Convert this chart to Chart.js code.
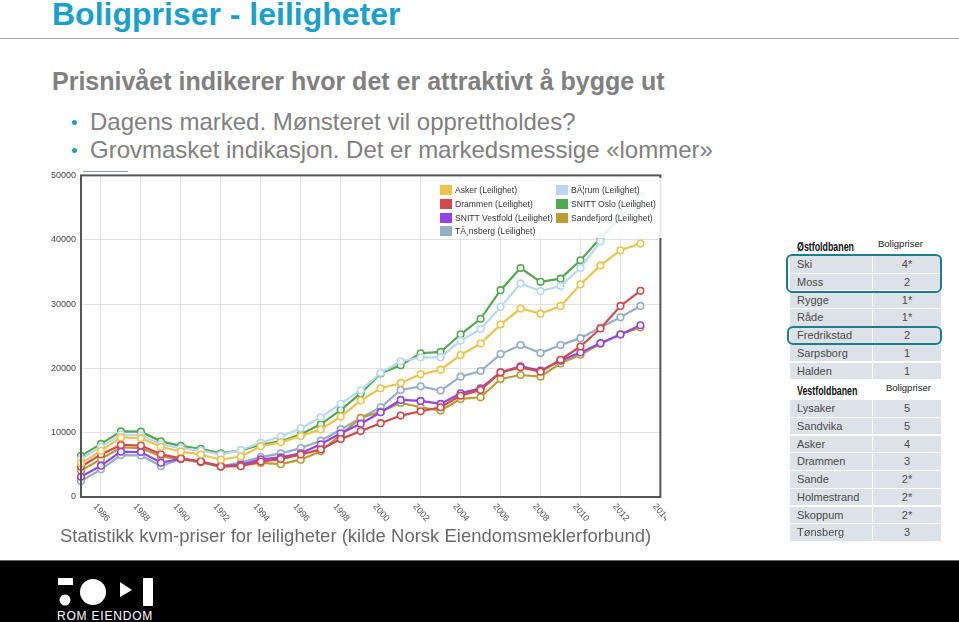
<!DOCTYPE html>
<html>
<head>
<meta charset="utf-8">
<script src="https://cdn.jsdelivr.net/npm/chart.js@4.4.1/dist/chart.umd.min.js"></script>
<style>
  body { margin: 0; width: 959px; height: 622px; background: #fff; position: relative; overflow: hidden; font-family: "Liberation Sans", Arial, sans-serif; }
  .abs { position: absolute; white-space: nowrap; }
  #title { left: 52px; top: -2px; font-size: 32px; line-height: 32px; font-weight: bold; color: #1ba1c9; }
  #rule { left: 0; top: 38px; width: 959px; height: 1px; background: #a8a8a8; }
  #sub { left: 52px; top: 69px; font-size: 25px; line-height: 25px; font-weight: bold; color: #808080; }
  .bul { left: 90px; font-size: 24px; line-height: 24px; color: #808080; }
  .dot { width: 5px; height: 5px; border-radius: 50%; background: #1ba1c9; }
  #caption { left: 60px; top: 527px; font-size: 18.5px; line-height: 18.5px; color: #6a6a6a; }
  #chartbox { left: 40px; top: 165px; width: 626px; height: 365px; overflow: hidden; }
  #legend { left: 436px; top: 178px; width: 226px; height: 60px; background: rgba(255,255,255,0.86); font-size: 8.6px; color: #333; }
  .lg { position: absolute; height: 12px; line-height: 12px; }
  .lg span { display: inline-block; width: 12px; height: 10px; vertical-align: -2px; margin-right: 3px; }
  .thead { font-weight: bold; font-size: 13px; line-height: 13px; color: #111; transform: scaleX(0.68); transform-origin: 0 0; }
  .tsub { font-size: 9.5px; line-height: 10px; color: #222; }
  .row { position: absolute; left: 790px; width: 151px; height: 16.7px; }
  .row div { position: absolute; top: 0; height: 16.7px; line-height: 17px; background: #dde2e8; font-size: 11px; color: #4a4a4a; }
  .row .c1 { left: 0; width: 82px; padding-left: 7px; box-sizing: border-box; }
  .row .c2 { left: 83px; width: 68px; text-align: center; }
  .hl { position: absolute; border: 2.5px solid #1b7d8e; border-radius: 6px; box-sizing: border-box; }
  #footer { left: 0; top: 560px; width: 959px; height: 62px; background: #000; border-top: 1px solid #666; box-sizing: border-box; }
</style>
</head>
<body>
<div class="abs" id="title">Boligpriser - leiligheter</div>
<div class="abs" id="rule"></div>
<div class="abs" id="sub">Prisnivået indikerer hvor det er attraktivt å bygge ut</div>
<div class="abs dot" style="left:72px;top:120px"></div>
<div class="abs bul" style="top:110px">Dagens marked. Mønsteret vil opprettholdes?</div>
<div class="abs dot" style="left:72px;top:148px"></div>
<div class="abs bul" style="top:138px">Grovmasket indikasjon. Det er markedsmessige «lommer»</div>

<div class="abs" style="left:83px;top:171px;width:45px;height:1px;background:#8fa0b4"></div>
<div class="abs" id="chartbox"><canvas id="chart" width="626" height="365"></canvas></div>
<div class="abs" id="legend"></div>
<div class="abs" id="caption">Statistikk kvm-priser for leiligheter (kilde Norsk Eiendomsmeklerforbund)</div>

<div id="tables"></div>

<div class="abs" id="footer">
  <svg width="200" height="62" style="position:absolute;left:0;top:0">
    <rect x="58" y="17" width="15" height="7" fill="#fff"/>
    <circle cx="65" cy="39" r="5.5" fill="#fff"/>
    <circle cx="93" cy="31" r="13" fill="#fff"/>
    <polygon points="120,21 132,29 120,36" fill="#fff"/>
    <rect x="143" y="17" width="10" height="28" fill="#fff"/>
  </svg>
  <div class="abs" style="left:57px;top:49px;font-size:12px;line-height:12px;color:#fff;letter-spacing:0.8px">ROM EIENDOM</div>
</div>

<script>
const years = ['1985','1986','1987','1988','1989','1990','1991','1992','1993','1994','1995','1996','1997','1998','1999',
  '2000','2001','2002','2003','2004','2005','2006','2007','2008','2009','2010','2011','2012','2013','2014'];
const seriesNames = ['Asker (Leilighet)', 'BÃ¦rum (Leilighet)', 'Drammen (Leilighet)', 'SNITT Oslo (Leilighet)',
  'SNITT Vestfold (Leilighet)', 'Sandefjord (Leilighet)', 'TÃ¸nsberg (Leilighet)'];
const seriesColors = ['#ecc44e', '#b9d7f2', '#d24a4a', '#52a94e', '#9344e6', '#bb9d35', '#95adc6'];

const asker = [5230, 7190, 9270, 9150, 7810, 7080, 6600, 5800, 6300, 7900, 8500, 9500, 10500, 12500, 15000,
  16900, 17730, 19070, 19790, 22070, 23850, 26800, 29300, 28500, 29700, 33050, 36000, 38350, 39400];
const baerum = [5900, 7800, 9700, 9600, 8200, 7600, 7200, 6600, 7300, 8450, 9400, 10700, 12400, 14500, 16600,
  19300, 21100, 21700, 21700, 24300, 26100, 29550, 33200, 32000, 32800, 35600, 39750, 43250, 46600];
const drammen = [4710, 6620, 8100, 8000, 6630, 6000, 5500, 4750, 4800, 5500, 5900, 6600, 7400, 9000, 10250,
  11470, 12660, 13330, 13950, 15760, 16640, 19380, 20160, 19480, 21340, 23400, 26200, 29700, 32050];
const oslo = [6400, 8250, 10200, 10150, 8650, 7950, 7500, 6800, 7250, 8150, 8650, 9750, 11300, 13550, 16100,
  19200, 20500, 22350, 22550, 25300, 27700, 32150, 35600, 33450, 33950, 36800, 40250, 43400, 46700];
const vestfold = [3150, 4870, 7040, 6980, 5330, 5950, 5500, 4800, 5000, 5850, 6160, 6800, 8200, 9900, 11400,
  13180, 15090, 14940, 14470, 16120, 16900, 19380, 20310, 19640, 21190, 22480, 23910, 25260, 26700];
const sandefjord = [4100, 5900, 7700, 7600, 6300, 5900, 5400, 4700, 5000, 5300, 5100, 5800, 7100, 9700, 12300,
  13280, 14630, 13950, 13440, 15250, 15500, 18350, 18970, 18710, 20780, 22120, 23820, 25300, 26350];
const tonsberg = [2480, 4300, 6520, 6460, 4810, 5900, 5400, 4750, 5350, 6200, 6780, 7600, 8750, 10500, 12300,
  13950, 16640, 17210, 16540, 18710, 19590, 22220, 23620, 22380, 23620, 24700, 26350, 27950, 29700];
const seriesValues = [asker, baerum, drammen, oslo, vestfold, sandefjord, tonsberg];
const yTicks = [0, 10000, 20000, 30000, 40000, 50000];

const ostfoldRows = [['Ski', '4*'], ['Moss', '2'], ['Rygge', '1*'], ['Råde', '1*'], ['Fredrikstad', '2'], ['Sarpsborg', '1'], ['Halden', '1']];
const vestfoldRows = [['Lysaker', '5'], ['Sandvika', '5'], ['Asker', '4'], ['Drammen', '3'], ['Sande', '2*'], ['Holmestrand', '2*'], ['Skoppum', '2*'], ['Tønsberg', '3']];

// legend (html, drawn over the plot like in the original)
const legendPos = [[4, 6], [120, 6], [4, 20], [120, 20], [4, 34], [120, 34], [4, 47]];
const legend = document.getElementById('legend');
seriesNames.forEach((n, i) => {
  const d = document.createElement('div');
  d.className = 'lg';
  d.style.left = legendPos[i][0] + 'px';
  d.style.top = legendPos[i][1] + 'px';
  d.innerHTML = '<span style="background:' + seriesColors[i] + '"></span>' + n;
  legend.appendChild(d);
});

// tables
function table(name, rows, top, subLeft) {
  const t = document.getElementById('tables');
  let h = '<div class="abs thead" style="left:797px;top:' + (top - 16) + 'px">' + name + '</div>';
  h += '<div class="abs tsub" style="left:' + subLeft + 'px;top:' + (top - 17) + 'px">Boligpriser</div>';
  rows.forEach((r, i) => {
    h += '<div class="row" style="top:' + (top + i * 17.75) + 'px"><div class="c1">' + r[0] + '</div><div class="c2">' + r[1] + '</div></div>';
  });
  t.insertAdjacentHTML('beforeend', h);
}
table('Østfoldbanen', ostfoldRows, 256, 878);
table('Vestfoldbanen', vestfoldRows, 400, 886);
document.getElementById('tables').insertAdjacentHTML('beforeend',
  '<div class="hl" style="left:786px;top:254px;width:156px;height:39px"></div>' +
  '<div class="hl" style="left:787px;top:326px;width:155px;height:19px"></div>');

const framePlugin = {
  id: 'frame',
  afterDraw(chart) {
    const { ctx, chartArea: a, scales } = chart;
    ctx.save();
    ctx.strokeStyle = '#555';
    ctx.lineWidth = 2;
    ctx.strokeRect(a.left, a.top, a.right - a.left, a.bottom - a.top);
    // rotated year labels, running down to the right
    ctx.fillStyle = '#555';
    ctx.font = '9px "Liberation Sans", Arial, sans-serif';
    ctx.textBaseline = 'middle';
    ctx.textAlign = 'left';
    years.forEach((y, i) => {
      if (+y % 2) return;
      const x = scales.x.getPixelForValue(i);
      ctx.save();
      ctx.translate(x - 6, a.bottom + 8);
      ctx.rotate(50 * Math.PI / 180);
      ctx.fillText(y, 0, 0);
      ctx.restore();
    });
    ctx.restore();
  }
};

new Chart(document.getElementById('chart'), {
  type: 'line',
  plugins: [framePlugin],
  data: {
    labels: years,
    datasets: seriesNames.map((n, i) => ({
      label: n,
      data: seriesValues[i],
      borderColor: seriesColors[i],
      backgroundColor: '#fff',
      borderWidth: 2.2,
      pointRadius: 3.3,
      pointBorderWidth: 1.6,
      pointBackgroundColor: '#fff',
      pointBorderColor: seriesColors[i],
      tension: 0
    }))
  },
  options: {
    responsive: false,
    animation: false,
    devicePixelRatio: 1,
    layout: { padding: { top: 10, right: 2, left: 0, bottom: 0 } },
    plugins: { legend: { display: false }, tooltip: { enabled: false } },
    scales: {
      x: {
        offset: false,
        grid: {
          color: ctx => (ctx.tick && +years[ctx.index] % 2 === 0) ? '#e2e2e2' : 'rgba(0,0,0,0)',
          drawTicks: false
        },
        border: { display: false },
        ticks: { display: false, autoSkip: false },
        afterFit(s) { s.height = 33; }
      },
      y: {
        min: 0, max: 50000,
        afterBuildTicks(s) { s.ticks = yTicks.map(v => ({ value: v })); },
        grid: { color: '#e2e2e2', drawTicks: false },
        border: { display: false },
        ticks: {
          color: '#444', padding: 5,
          font: { size: 9, family: '"Liberation Sans", Arial, sans-serif' },
          callback: v => String(v)
        },
        afterFit(s) { s.width = 41; }
      }
    }
  }
});
</script>
</body>
</html>
